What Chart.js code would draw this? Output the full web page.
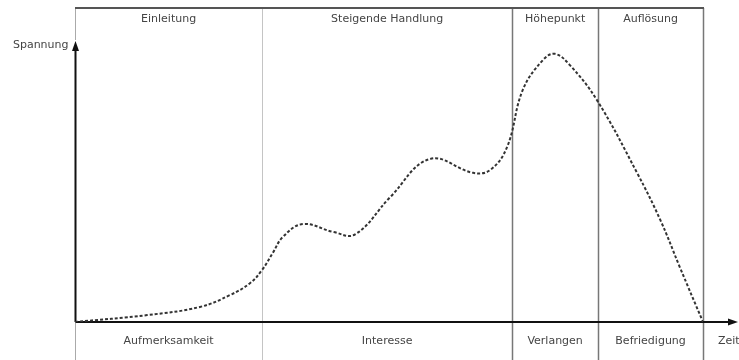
<!DOCTYPE html>
<html><head><meta charset="utf-8">
<script src="https://cdn.jsdelivr.net/npm/chart.js@4/dist/chart.umd.min.js"></script>
<style>html,body{margin:0;padding:0;background:#fff}#wrap{width:739px;height:360px}</style>
</head><body><div id="wrap"><canvas id="c" width="739" height="360"></canvas></div>
<script>
const xValues = [0, 11.5, 19.9, 24.7, 27.9, 29.8, 31.5, 33.1, 36.3, 41.1, 44.6, 50.2, 56.5, 63.4, 66.1, 68.8, 71.3, 74.5, 76.4, 78.8, 83.1, 89.5, 93.2, 96.3, 100];
const tension  = [0, 2.2, 4.8, 8.6, 12.4, 16.6, 22.0, 27.1, 31.2, 28.7, 27.9, 39.8, 51.9, 47.5, 48.4, 55.7, 73.9, 83.4, 85.4, 81.8, 70.7, 47.5, 32.5, 17.5, 0];
const sectionBounds = [0, 29.8, 69.6, 83.3, 100];
const topLabels = ["Einleitung", "Steigende Handlung", "Höhepunkt", "Auflösung"];
const bottomLabels = ["Aufmerksamkeit", "Interesse", "Verlangen", "Befriedigung"];
const yTitle = "Spannung";
const xTitle = "Zeit";

const points = xValues.map((x, i) => ({x: x, y: tension[i]}));

const decor = {
  id: 'decor',
  beforeDatasetsDraw(chart) {
    const {ctx, chartArea: a, scales: {x, y}} = chart;
    const H = chart.height;
    ctx.save();
    sectionBounds.forEach((b, i) => {
      const px = Math.round(x.getPixelForValue(b)) + 0.5;
      ctx.beginPath();
      if (i === 0) {
        ctx.strokeStyle = '#aaa'; ctx.lineWidth = 1;
        ctx.moveTo(px, a.top); ctx.lineTo(px, a.top + 32);
        ctx.moveTo(px, a.bottom); ctx.lineTo(px, H);
      } else {
        ctx.strokeStyle = i === 1 ? '#c4c4c4' : '#777';
        ctx.lineWidth = i === 1 ? 1 : 1.5;
        ctx.moveTo(px, a.top); ctx.lineTo(px, H);
      }
      ctx.stroke();
    });
    ctx.beginPath();
    ctx.strokeStyle = '#555'; ctx.lineWidth = 2;
    ctx.moveTo(a.left, a.top); ctx.lineTo(a.right + 1, a.top);
    ctx.stroke();
    ctx.font = '11px "DejaVu Sans", Verdana, sans-serif';
    ctx.fillStyle = '#444';
    ctx.textAlign = 'center'; ctx.textBaseline = 'middle';
    for (let i = 0; i < topLabels.length; i++) {
      const cx = (x.getPixelForValue(sectionBounds[i]) + x.getPixelForValue(sectionBounds[i + 1])) / 2;
      ctx.fillText(topLabels[i], cx, a.top + 11);
      ctx.fillText(bottomLabels[i], cx, a.bottom + 19);
    }
    ctx.strokeStyle = '#111'; ctx.fillStyle = '#111'; ctx.lineWidth = 2;
    const ox = a.left + 0.5, oy = a.bottom;
    ctx.beginPath(); ctx.moveTo(ox, oy); ctx.lineTo(ox, a.top + 40); ctx.stroke();
    ctx.beginPath(); ctx.moveTo(ox, a.top + 33); ctx.lineTo(ox - 3.5, a.top + 43); ctx.lineTo(ox + 3.5, a.top + 43); ctx.closePath(); ctx.fill();
    ctx.beginPath(); ctx.moveTo(ox, oy); ctx.lineTo(chart.width - 8, oy); ctx.stroke();
    ctx.beginPath(); ctx.moveTo(chart.width - 1, oy); ctx.lineTo(chart.width - 11, oy - 3.5); ctx.lineTo(chart.width - 11, oy + 3.5); ctx.closePath(); ctx.fill();
    ctx.fillStyle = '#444';
    ctx.textAlign = 'right';
    ctx.fillText(yTitle, ox - 7, a.top + 37);
    ctx.textAlign = 'left';
    ctx.fillText(xTitle, a.right + 15, a.bottom + 19);
    ctx.restore();
  }
};

new Chart(document.getElementById('c'), {
  type: 'line',
  data: { datasets: [{
    data: points,
    borderColor: '#333',
    borderWidth: 2,
    borderDash: [3, 2],
    pointRadius: 0,
    fill: false,
    tension: 0.4
  }]},
  options: {
    responsive: false,
    animation: false,
    layout: { padding: { left: 75, right: 36, top: 8, bottom: 38 } },
    plugins: { legend: { display: false }, tooltip: { enabled: false } },
    scales: {
      x: { type: 'linear', min: 0, max: 100, display: false },
      y: { min: 0, max: 100, display: false }
    }
  },
  plugins: [decor]
});
</script></body></html>
